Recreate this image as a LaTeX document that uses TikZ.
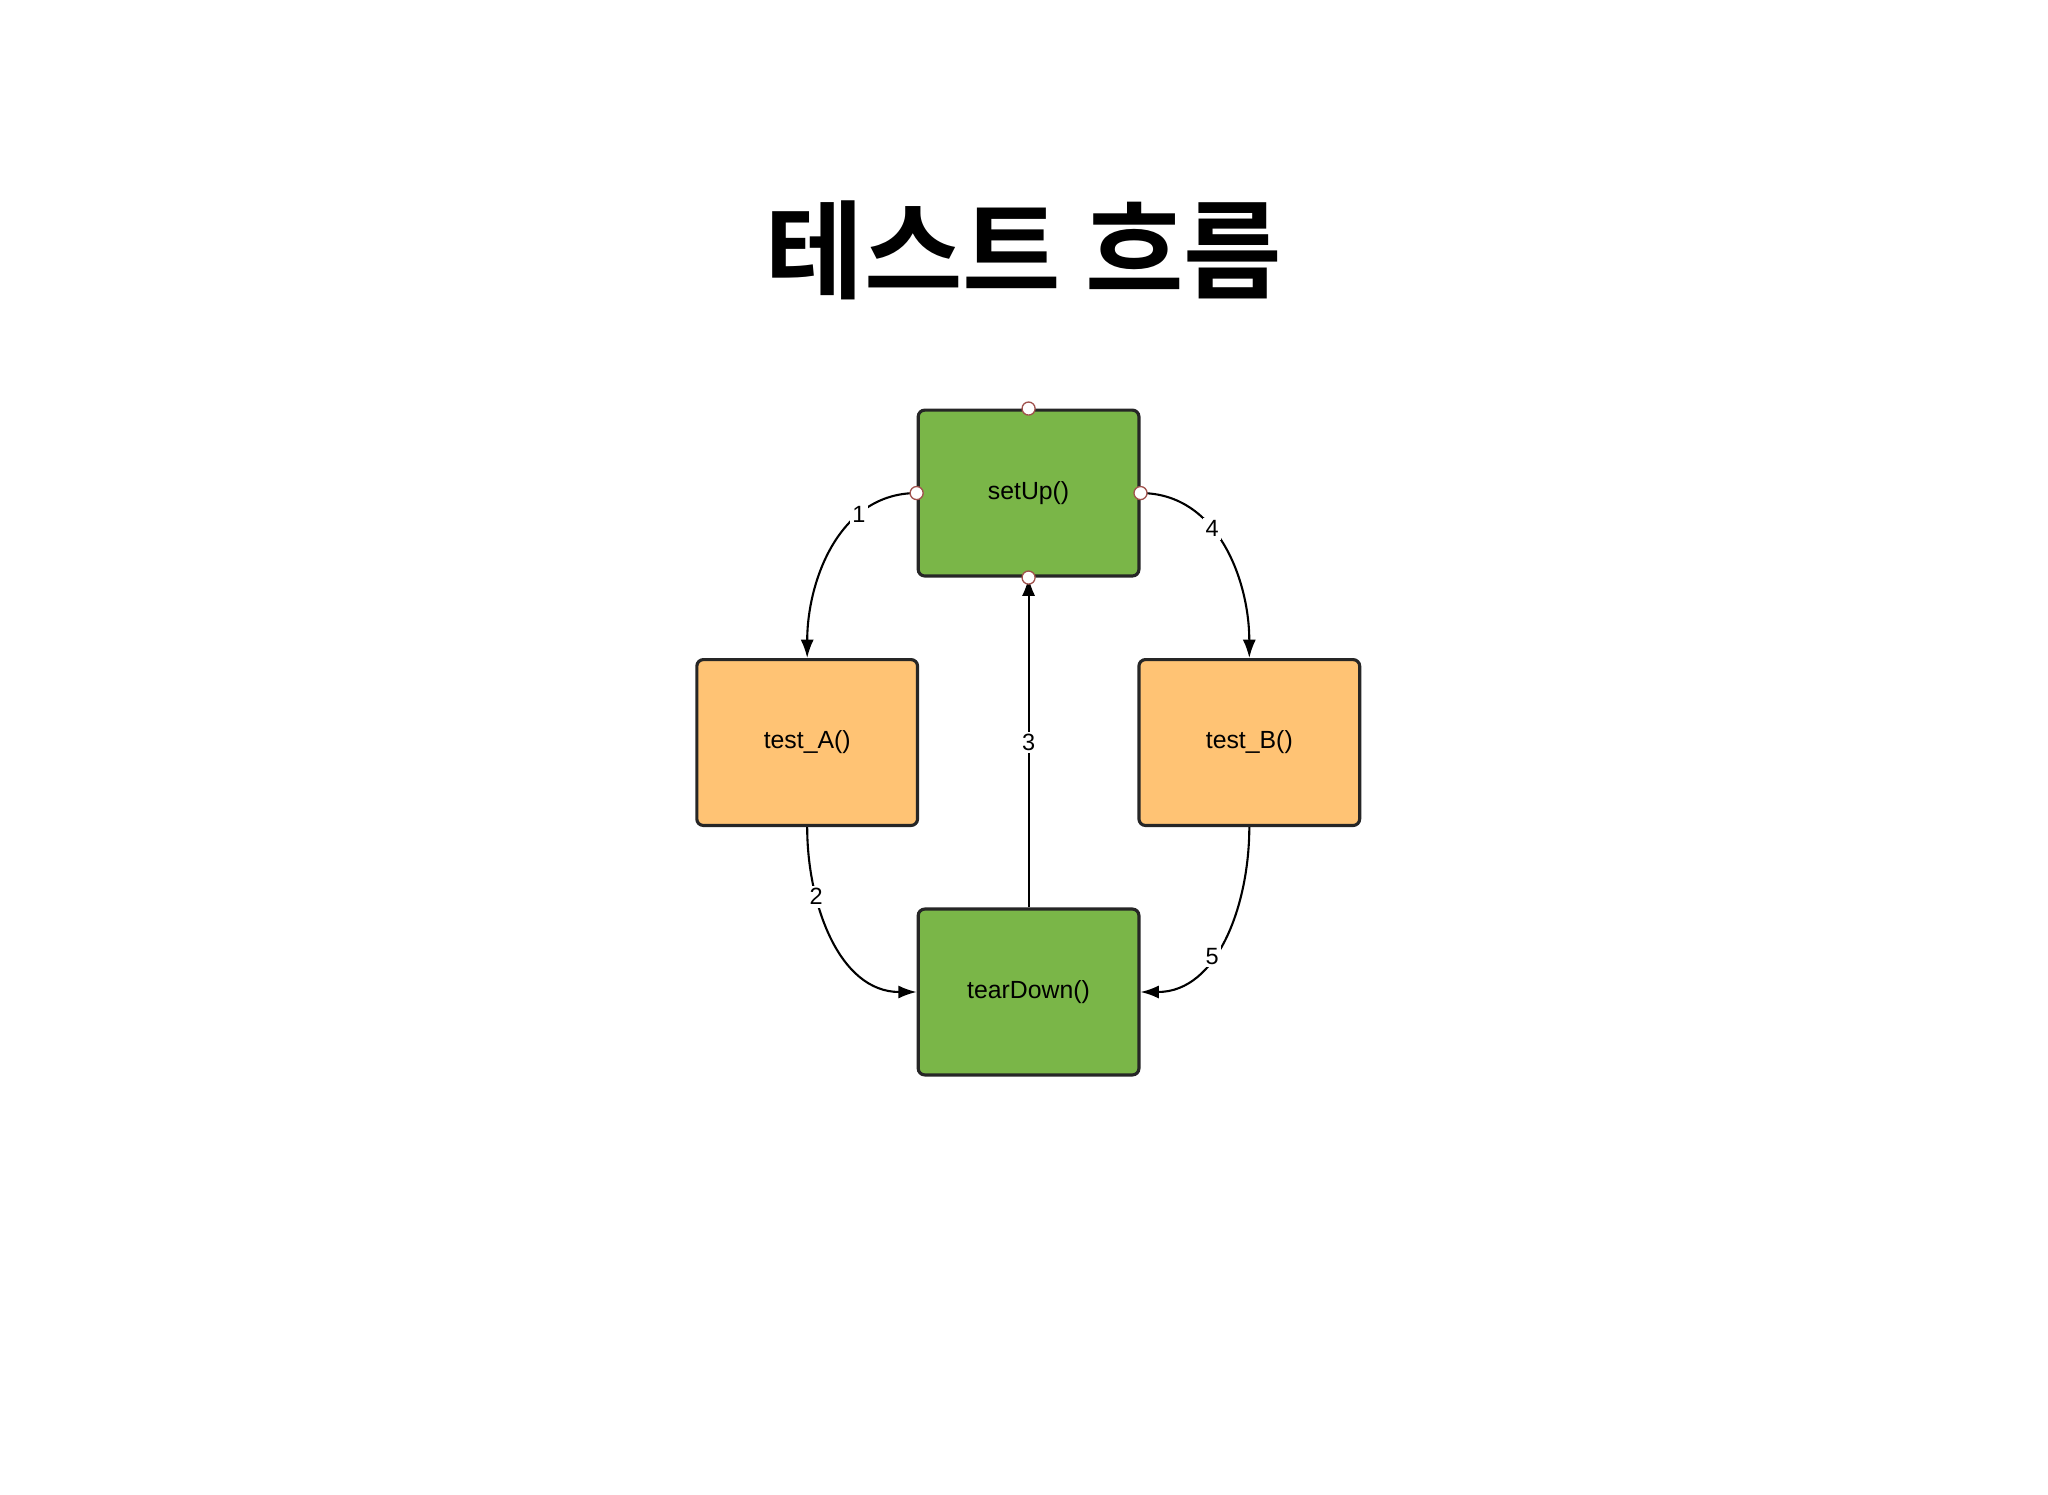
\documentclass[tikz,border=0pt]{standalone}
\usepackage{fontspec}
\setmainfont{Liberation Sans}
\newfontfamily\kr{Noto Sans CJK KR Bold}
\usetikzlibrary{arrows.meta}
\definecolor{grn}{HTML}{7AB648}
\definecolor{org}{HTML}{FFC374}
\definecolor{pin}{HTML}{A0524D}
\tikzset{
 box/.style={draw=black!85,line width=1.2pt,rounded corners=2.5pt,minimum width=169\pxu,minimum height=127\pxu,inner sep=0pt,font=\fontsize{9.5}{11}\selectfont},
 gbox/.style={box,fill=grn},
 obox/.style={box,fill=org},
 conn/.style={line width=0.8pt,-{Latex[length=7pt,width=5pt]}},
 lbl/.style={fill=white,inner sep=1pt,font=\fontsize{9}{10}\selectfont},
 pinc/.style={circle,draw=pin,fill=white,line width=0.5pt,inner sep=0pt,minimum size=5pt}
}
\newlength{\pxu}\setlength{\pxu}{0.5pt}
\begin{document}
\begin{tikzpicture}[x=0.5pt,y=-0.5pt]
\useasboundingbox (0,0) rectangle (1568,1144);
\node at (784,192) {\kr\fontsize{41}{45}\selectfont 테스트 흐름};
\node[gbox] (s) at (787.5,377.5) {setUp()};
\node[obox] (a) at (618,568.5) {test\_A()};
\node[obox] (b) at (956.5,568.5) {test\_B()};
\node[gbox] (t) at (787.5,759.5) {tearDown()};
\draw[conn] (s.west) to[out=180,in=90] node[lbl,pos=0.3]{1} (a.north);
\draw[conn] (a.south) to[out=270,in=180] node[lbl,pos=0.3]{2} (t.west);
\draw[conn] (t.north) -- node[lbl]{3} (s.south);
\draw[conn] (s.east) to[out=0,in=90] node[lbl,pos=0.4]{4} (b.north);
\draw[conn] (b.south) to[out=270,in=0] node[lbl,pos=0.6]{5} (t.east);
\node[pinc] at (s.north) {};
\node[pinc] at (s.west) {};
\node[pinc] at (s.east) {};
\node[pinc] at (s.south) {};
\end{tikzpicture}
\end{document}
